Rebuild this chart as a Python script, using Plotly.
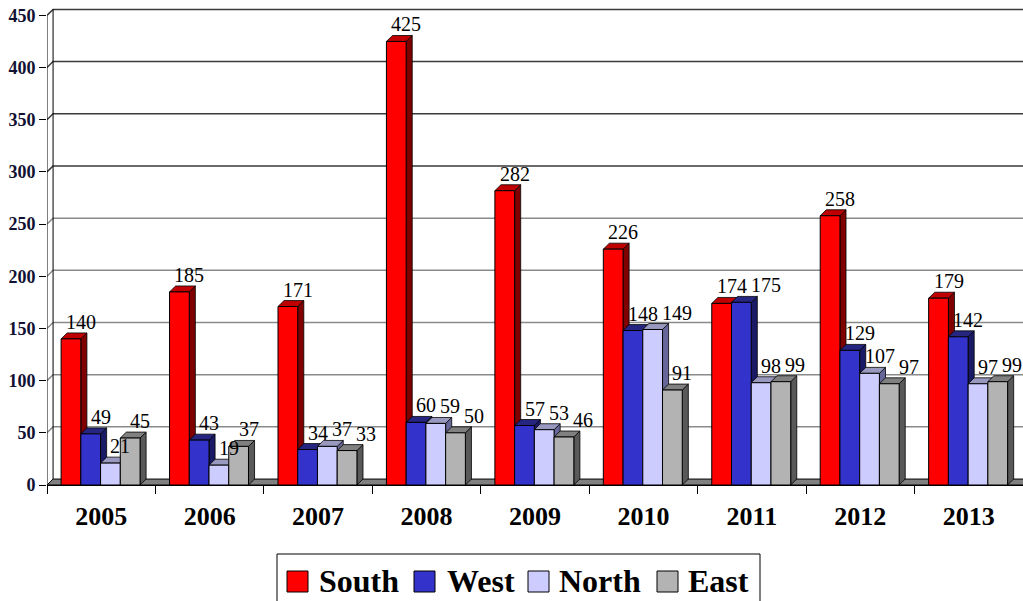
import plotly.graph_objects as go

# ---------------- data ----------------
years = ["2005", "2006", "2007", "2008", "2009", "2010", "2011", "2012", "2013"]
series_names = ["South", "West", "North", "East"]
south = [140, 185, 171, 425, 282, 226, 174, 258, 179]
west = [49, 43, 34, 60, 57, 148, 175, 129, 142]
north = [21, 19, 37, 59, 53, 149, 98, 107, 97]
east = [45, 37, 33, 50, 46, 91, 99, 97, 99]
y_ticks = [0, 50, 100, 150, 200, 250, 300, 350, 400, 450]

series_values = [south, west, north, east]

# ---------------- style ----------------
front_colors = ["#ff0000", "#3333cc", "#ccccff", "#b3b3b3"]
side_colors = ["#800000", "#1a1a66", "#666699", "#595959"]
top_colors = ["#c00000", "#262680", "#9999c0", "#808080"]

W, H = 1023, 601
L, R, T, B = 47, 0, 7, 116
Y_MAX = 458
BAR_W = 0.182
BAR_START = 0.13
DX = 0.056
DY = 5.7
SERIF = "Liberation Serif"
LABEL_SIZE = 20

n = len(years)
xs = list(range(n))
plot_w = W - L - R
plot_h = H - T - B
PX_PER_X = plot_w / n
PX_PER_Y = plot_h / Y_MAX

fig = go.Figure()

shapes = []

# back-wall gridlines (with small diagonal from the front axis)
for v in y_ticks[1:]:
    col = "#3a3a3a" if v >= 300 else "#8a8a8a"
    shapes.append(dict(type="path", layer="below",
                       path=f"M 0,{v} L {DX},{v+DY} L {n+DX},{v+DY}",
                       line=dict(color=col, width=1.5)))

# back wall left edge
shapes.append(dict(type="line", layer="below", x0=DX, x1=DX, y0=DY, y1=y_ticks[-1] + DY,
                   line=dict(color="black", width=1)))
# front y axis line
shapes.append(dict(type="line", layer="above", x0=0, x1=0, y0=0, y1=y_ticks[-1],
                   line=dict(color="black", width=1)))

# floor
shapes.append(dict(type="path", layer="between",
                   path=f"M 0,0 L {DX},{DY} L {n+DX},{DY} L {n},0 Z",
                   fillcolor="#808080", line=dict(color="black", width=1)))

# 3D faces
for i, vals in enumerate(series_values):
    for j, v in enumerate(vals):
        x0 = j + BAR_START + i * BAR_W
        x1 = x0 + BAR_W
        shapes.append(dict(type="path", layer="between",
                           path=f"M {x1},0 L {x1+DX},{DY} L {x1+DX},{v+DY} L {x1},{v} Z",
                           fillcolor=side_colors[i], line=dict(color="black", width=0.8)))
        shapes.append(dict(type="path", layer="between",
                           path=f"M {x0},{v} L {x0+DX},{v+DY} L {x1+DX},{v+DY} L {x1},{v} Z",
                           fillcolor=top_colors[i], line=dict(color="black", width=0.8)))

for i, vals in enumerate(series_values):
    fig.add_trace(go.Bar(
        x=xs, y=vals, name=series_names[i],
        width=BAR_W, offset=BAR_START + i * BAR_W,
        marker=dict(color=front_colors[i], line=dict(color="black", width=1)),
        showlegend=False,
        hovertemplate=series_names[i] + " %{customdata}: %{y}<extra></extra>",
        customdata=years,
    ))

# value labels, nudged right to avoid overlapping the neighbour label
annotations = []
LABEL_NUDGE_PX = 7
LABEL_GAP_PX = 4
for j in range(n):
    placed = []  # (left_px, right_px, y_px)
    for i, vals in enumerate(series_values):
        v = vals[j]
        text = str(v)
        w_px = 0.5 * LABEL_SIZE * len(text)
        cx = (j + BAR_START + i * BAR_W + (BAR_W + DX) / 2) * PX_PER_X + LABEL_NUDGE_PX
        y_px = (v + DY) * PX_PER_Y
        left = cx - w_px / 2
        for (pl, pr, py) in placed:
            if abs(py - y_px) < 18 and left < pr and left + w_px > pl:
                left = pr + LABEL_GAP_PX
        placed.append((left, left + w_px, y_px))
        annotations.append(dict(
            x=(left + w_px / 2) / PX_PER_X, y=v + DY,
            xref="x", yref="y", text=text, showarrow=False,
            xanchor="center", yanchor="bottom", yshift=-2,
            font=dict(family=SERIF, size=LABEL_SIZE, color="black"),
        ))

# ---------------- manual legend ----------------


def px_x(px):
    return (px - L) / plot_w


def px_y(py):
    return (H - B - py) / plot_h


shapes.append(dict(type="rect", xref="paper", yref="paper", layer="above",
                   x0=px_x(277), x1=px_x(760), y0=px_y(612), y1=px_y(554),
                   fillcolor="white", line=dict(color="black", width=1)))
legend_square_x = [287, 414, 528, 657]
legend_text_x = [317, 445, 557, 686]
for i, name in enumerate(series_names):
    shapes.append(dict(type="rect", xref="paper", yref="paper", layer="above",
                       x0=px_x(legend_square_x[i]), x1=px_x(legend_square_x[i] + 21),
                       y0=px_y(592), y1=px_y(571),
                       fillcolor=front_colors[i], line=dict(color="black", width=1)))
    annotations.append(dict(
        x=px_x(legend_text_x[i]), y=px_y(581), xref="paper", yref="paper",
        text=name, showarrow=False, xanchor="left", yanchor="middle",
        font=dict(family=SERIF, size=32, color="black", weight="bold"),
    ))

fig.update_layout(
    width=W, height=H,
    margin=dict(l=L, r=R, t=T, b=B, pad=0, autoexpand=False),
    paper_bgcolor="white", plot_bgcolor="white",
    barmode="overlay",
    shapes=shapes, annotations=annotations,
    showlegend=False,
    xaxis=dict(
        range=[0, n], showgrid=False, zeroline=False, automargin=False,
        showline=True, linecolor="black", linewidth=1,
        tickvals=[x + 0.5 for x in xs], ticktext=years, ticks="",
        tickfont=dict(family=SERIF, size=26, color="black", weight="bold"),
        ticklabelstandoff=8,
        minor=dict(tickvals=list(range(n + 1)), ticks="outside", ticklen=8,
                   tickcolor="black", tickwidth=1, showgrid=False),
    ),
    yaxis=dict(
        range=[0, Y_MAX], showgrid=False, zeroline=False, showline=False, automargin=False,
        tickvals=y_ticks, ticks="outside", ticklen=7, tickcolor="black",
        tickfont=dict(family=SERIF, size=18, color="#111133", weight="bold"),
    ),
)

fig.write_html(
    "out.html",
    config={"displayModeBar": False},
    post_script="document.body.style.margin='0';document.body.style.overflow='hidden';",
)
